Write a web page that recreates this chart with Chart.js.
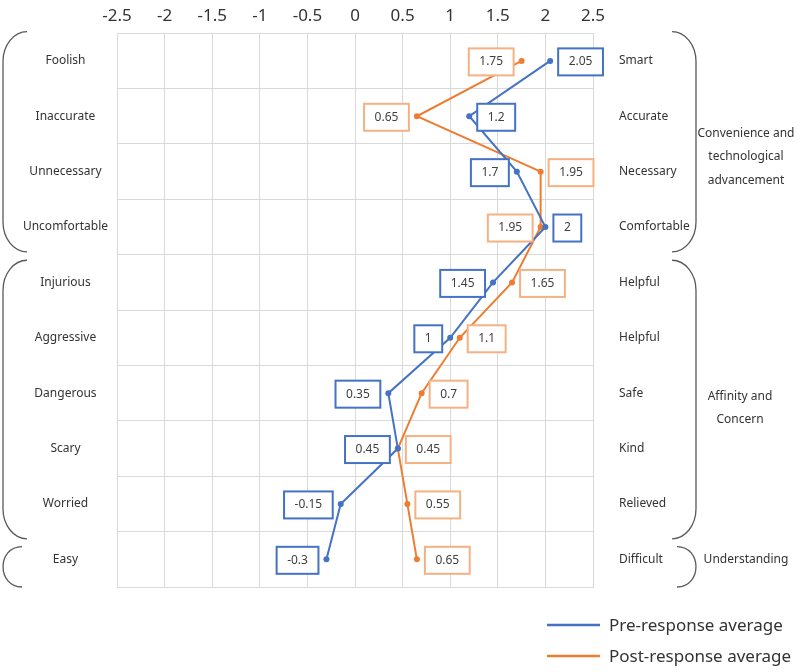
<!DOCTYPE html>
<html>
<head>
<meta charset="utf-8">
<script src="https://cdn.jsdelivr.net/npm/chart.js@4.4.0/dist/chart.umd.min.js"></script>
<style>
body { margin: 0; background: #fff; }
#wrap { width: 800px; height: 672px; }
</style>
</head>
<body>
<div id="wrap"><canvas id="c" width="800" height="672"></canvas></div>
<script>
// 左右形容詞
const leftLabels = ['Foolish', 'Inaccurate', 'Unnecessary', 'Uncomfortable', 'Injurious', 'Aggressive', 'Dangerous', 'Scary', 'Worried', 'Easy'];
const rightLabels = ['Smart', 'Accurate', 'Necessary', 'Comfortable', 'Helpful', 'Helpful', 'Safe', 'Kind', 'Relieved', 'Difficult'];
// 平均值
const preValues = [2.05, 1.2, 1.7, 2, 1.45, 1, 0.35, 0.45, -0.15, -0.3];
const postValues = [1.75, 0.65, 1.95, 1.95, 1.65, 1.1, 0.7, 0.45, 0.55, 0.65];
const seriesNames = ['Pre-response average', 'Post-response average'];
const xTicks = [-2.5, -2, -1.5, -1, -0.5, 0, 0.5, 1, 1.5, 2, 2.5];
// 分組
const groupNames = [['Convenience and', 'technological', 'advancement'], ['Affinity and', 'Concern'], ['Understanding']];
const groupRows = [[0, 3], [4, 8], [9, 9]];

const BLUE = '#4472C4';
const ORANGE = '#ED7D31';
const BOX_BORDERS = ['#4472C4', '#F4B183'];
const FONT = '"Noto Sans", "Noto Sans CJK KR", sans-serif';
const GRID = '#d9d9d9';

// 數值框
const valueBoxes = {
  id: 'valueBoxes',
  afterDatasetsDraw(chart) {
    const ctx = chart.ctx;
    const m0 = chart.getDatasetMeta(0), m1 = chart.getDatasetMeta(1);
    ctx.save();
    ctx.font = '12px ' + FONT;
    ctx.textAlign = 'center';
    ctx.textBaseline = 'middle';
    for (let i = 0; i < leftLabels.length; i++) {
      const v0 = chart.data.datasets[0].data[i];
      const v1 = chart.data.datasets[1].data[i];
      const rightIdx = v0 > v1 ? 0 : 1;
      [m0, m1].forEach((meta, d) => {
        const pt = meta.data[i];
        const txt = String(chart.data.datasets[d].data[i]);
        const w = ctx.measureText(txt).width + 21;
        const h = 27;
        const x = d === rightIdx ? pt.x + 8 : pt.x - 8 - w;
        const y = pt.y + 1 - h / 2;
        ctx.fillStyle = '#fff';
        ctx.fillRect(x, y, w, h);
        ctx.strokeStyle = BOX_BORDERS[d];
        ctx.lineWidth = 2;
        ctx.strokeRect(x, y, w, h);
        ctx.fillStyle = '#404040';
        ctx.fillText(txt, x + w / 2, y + h / 2);
      });
    }
    ctx.restore();
  }
};

// 括號、分組文字、圖例
const decorations = {
  id: 'decorations',
  afterDraw(chart) {
    const ctx = chart.ctx;
    const area = chart.chartArea;
    const rowH = (area.bottom - area.top) / leftLabels.length;
    const ext = [[-0.03, 3.95], [4.1, 9.13], [9.27, 10]];
    ctx.save();
    ctx.strokeStyle = '#595959';
    ctx.lineWidth = 1.3;
    groupRows.forEach((g, k) => {
      const y1 = area.top + ext[k][0] * rowH;
      const y2 = area.top + ext[k][1] * rowH;
      const h = y2 - y1;
      const small = h < 80;
      const lo = 3, le = small ? 22 : 27;
      const ro = area.right + 103, re = small ? area.right + 84 : area.right + 79;
      [[lo, le], [ro, re]].forEach(([xo, xe]) => {
        ctx.beginPath();
        if (small) {
          ctx.moveTo(xe, y1);
          ctx.bezierCurveTo(xe + (xo - xe) * 1.33, y1, xe + (xo - xe) * 1.33, y2, xe, y2);
        } else {
          const r = 30;
          ctx.moveTo(xe, y1);
          ctx.bezierCurveTo(xe + (xo - xe) * 0.55, y1, xo, y1 + r * 0.45, xo, y1 + r);
          ctx.lineTo(xo, y2 - r);
          ctx.bezierCurveTo(xo, y2 - r * 0.45, xe + (xo - xe) * 0.55, y2, xe, y2);
        }
        ctx.stroke();
      });
    });

    ctx.fillStyle = '#333';
    ctx.font = '12px ' + FONT;
    ctx.textAlign = 'center';
    ctx.textBaseline = 'middle';
    const centers = [2.23, 6.77, 9.5];
    const cx = [746, 740, 746];
    groupNames.forEach((lines, k) => {
      const cy = area.top + centers[k] * rowH;
      lines.forEach((t, j) => {
        ctx.fillText(t, cx[k], cy + (j - (lines.length - 1) / 2) * 23.5);
      });
    });

    // 圖例
    ctx.font = '17px ' + FONT;
    ctx.textAlign = 'left';
    chart.data.datasets.forEach((ds, d) => {
      const y = area.bottom + 38 + d * 31;
      ctx.strokeStyle = ds.borderColor;
      ctx.lineWidth = 2.5;
      ctx.beginPath();
      ctx.moveTo(547, y);
      ctx.lineTo(600, y);
      ctx.stroke();
      ctx.fillStyle = '#333';
      ctx.fillText(ds.label, 609, y + 1);
    });
    ctx.restore();
  }
};

const ctx = document.getElementById('c').getContext('2d');
const myChart = new Chart(ctx, {
  type: 'line',
  data: {
    labels: leftLabels,
    datasets: [{
      label: seriesNames[0],
      data: preValues,
      borderColor: BLUE,
      backgroundColor: BLUE,
      borderWidth: 2,
      pointRadius: 3,
      pointBorderWidth: 0,
      tension: 0
    }, {
      label: seriesNames[1],
      data: postValues,
      borderColor: ORANGE,
      backgroundColor: ORANGE,
      borderWidth: 2,
      pointRadius: 3,
      pointBorderWidth: 0,
      tension: 0
    }]
  },
  options: {
    indexAxis: 'y',
    responsive: false,
    animation: false,
    layout: { padding: { left: 0, right: 0, top: 0, bottom: 85 } },
    plugins: {
      legend: { display: false },
      tooltip: { enabled: false }
    },
    scales: {
      x: {
        type: 'linear',
        position: 'top',
        min: -2.5,
        max: 2.5,
        afterBuildTicks: s => { s.ticks = xTicks.map(v => ({ value: v })); },
        afterFit: s => { s.height = 31; },
        ticks: {
          font: { family: FONT, size: 17 },
          color: '#333',
          padding: 7,
          callback: v => String(v)
        },
        grid: { color: GRID, drawTicks: false },
        border: { color: GRID }
      },
      y: {
        type: 'category',
        position: 'left',
        offset: true,
        afterFit: s => { s.width = 117; },
        ticks: {
          font: { family: FONT, size: 12 },
          color: '#333',
          crossAlign: 'center',
          padding: 9
        },
        grid: { color: GRID, drawTicks: false, offset: true },
        border: { color: GRID }
      },
      y2: {
        type: 'category',
        labels: rightLabels,
        position: 'right',
        offset: true,
        afterFit: s => { s.width = 207; },
        ticks: {
          font: { family: FONT, size: 12 },
          color: '#333',
          padding: 26
        },
        grid: { display: false, drawTicks: false },
        border: { color: GRID }
      }
    }
  },
  plugins: [valueBoxes, decorations]
});
</script>
</body>
</html>
